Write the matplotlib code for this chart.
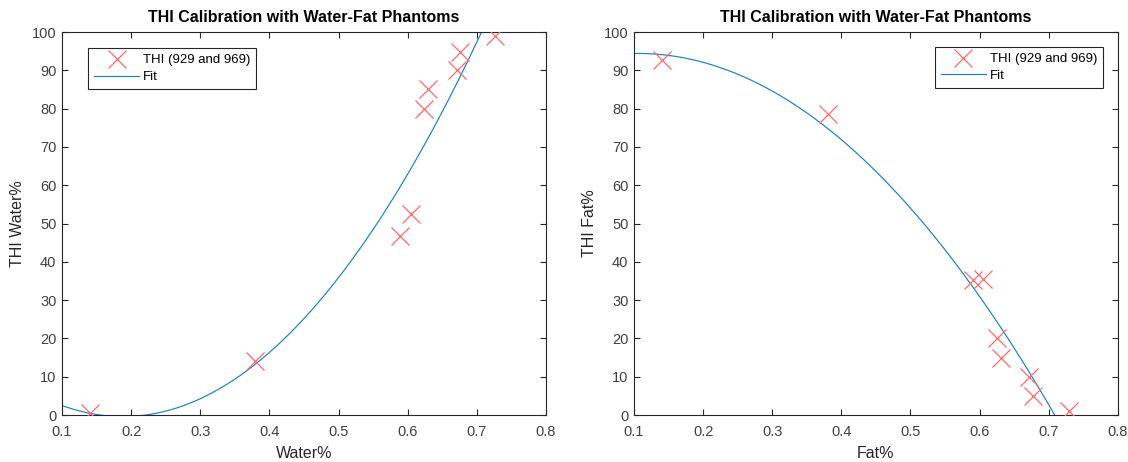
import numpy as np
import matplotlib
matplotlib.use("Agg")
import matplotlib.pyplot as plt

plt.rcParams['font.family'] = ['Liberation Sans', 'DejaVu Sans']

# values
water_pct = [0.140, 0.379, 0.589, 0.605, 0.623, 0.629, 0.671, 0.676, 0.727]
thi_water = [0.6, 14.1, 46.8, 52.6, 80.0, 85.0, 90.0, 94.8, 99.0]

fat_pct = [0.141, 0.380, 0.590, 0.605, 0.625, 0.631, 0.672, 0.677, 0.730]
thi_fat = [92.8, 78.6, 35.3, 35.5, 20.0, 15.0, 10.0, 5.0, 1.0]

legend_labels = ['THI (929 and 969)', 'Fit']
title = 'THI Calibration with Water-Fat Phantoms'

marker_color = '#ff6a6a'
fit_color = '#1a7fc8'
ink = '#262626'
tick_ink = '#404040'

fig = plt.figure(figsize=(11.28, 4.62), dpi=100)
ax1 = fig.add_axes([0.055, 0.1017, 0.429, 0.829])
ax2 = fig.add_axes([0.562, 0.1017, 0.429, 0.829])


def draw_panel(ax, x, y, xlabel, ylabel, legend_loc, legend_anchor):
    # quadratic fit like matlab polyfit(x, y, 2)
    coef = np.polyfit(x, y, 2)
    xs = np.linspace(0.1, 0.8, 400)
    ax.plot(x, y, 'x', color=marker_color, markersize=13, markeredgewidth=0.9,
            label=legend_labels[0], zorder=3)
    ax.plot(xs, np.polyval(coef, xs), '-', color=fit_color, linewidth=0.85,
            label=legend_labels[1], zorder=2)
    ax.set_xlim(0.1, 0.8)
    ax.set_ylim(0, 100)
    ax.set_xticks(np.arange(0.1, 0.81, 0.1))
    ax.set_xticklabels(['0.1', '0.2', '0.3', '0.4', '0.5', '0.6', '0.7', '0.8'])
    ax.set_yticks(np.arange(0, 101, 10))
    ax.tick_params(direction='in', top=True, right=True, length=4, width=0.8,
                   colors=ink, labelsize=10.5, labelcolor=tick_ink)
    ax.tick_params(axis='x', pad=7)
    ax.tick_params(axis='y', pad=4)
    for sp in ax.spines.values():
        sp.set_color(ink)
        sp.set_linewidth(0.8)
    ax.set_xlabel(xlabel, fontsize=11.5, color=ink, labelpad=5)
    ax.set_ylabel(ylabel, fontsize=11.5, color=ink, labelpad=5)
    ax.set_title(title, fontsize=11.5, fontweight='bold', pad=7)
    leg = ax.legend(loc=legend_loc, bbox_to_anchor=legend_anchor, borderaxespad=0,
                    fontsize=9.5, fancybox=False, framealpha=1, edgecolor=ink,
                    handlelength=3.4, handletextpad=0.3, borderpad=0.45,
                    labelspacing=0.35)
    leg.get_frame().set_linewidth(0.8)


draw_panel(ax1, water_pct, thi_water, 'Water%', 'THI Water%', 'upper left', (0.054, 0.958))
draw_panel(ax2, fat_pct, thi_fat, 'Fat%', 'THI Fat%', 'upper right', (0.969, 0.961))

fig.savefig('out.png', dpi=100)
